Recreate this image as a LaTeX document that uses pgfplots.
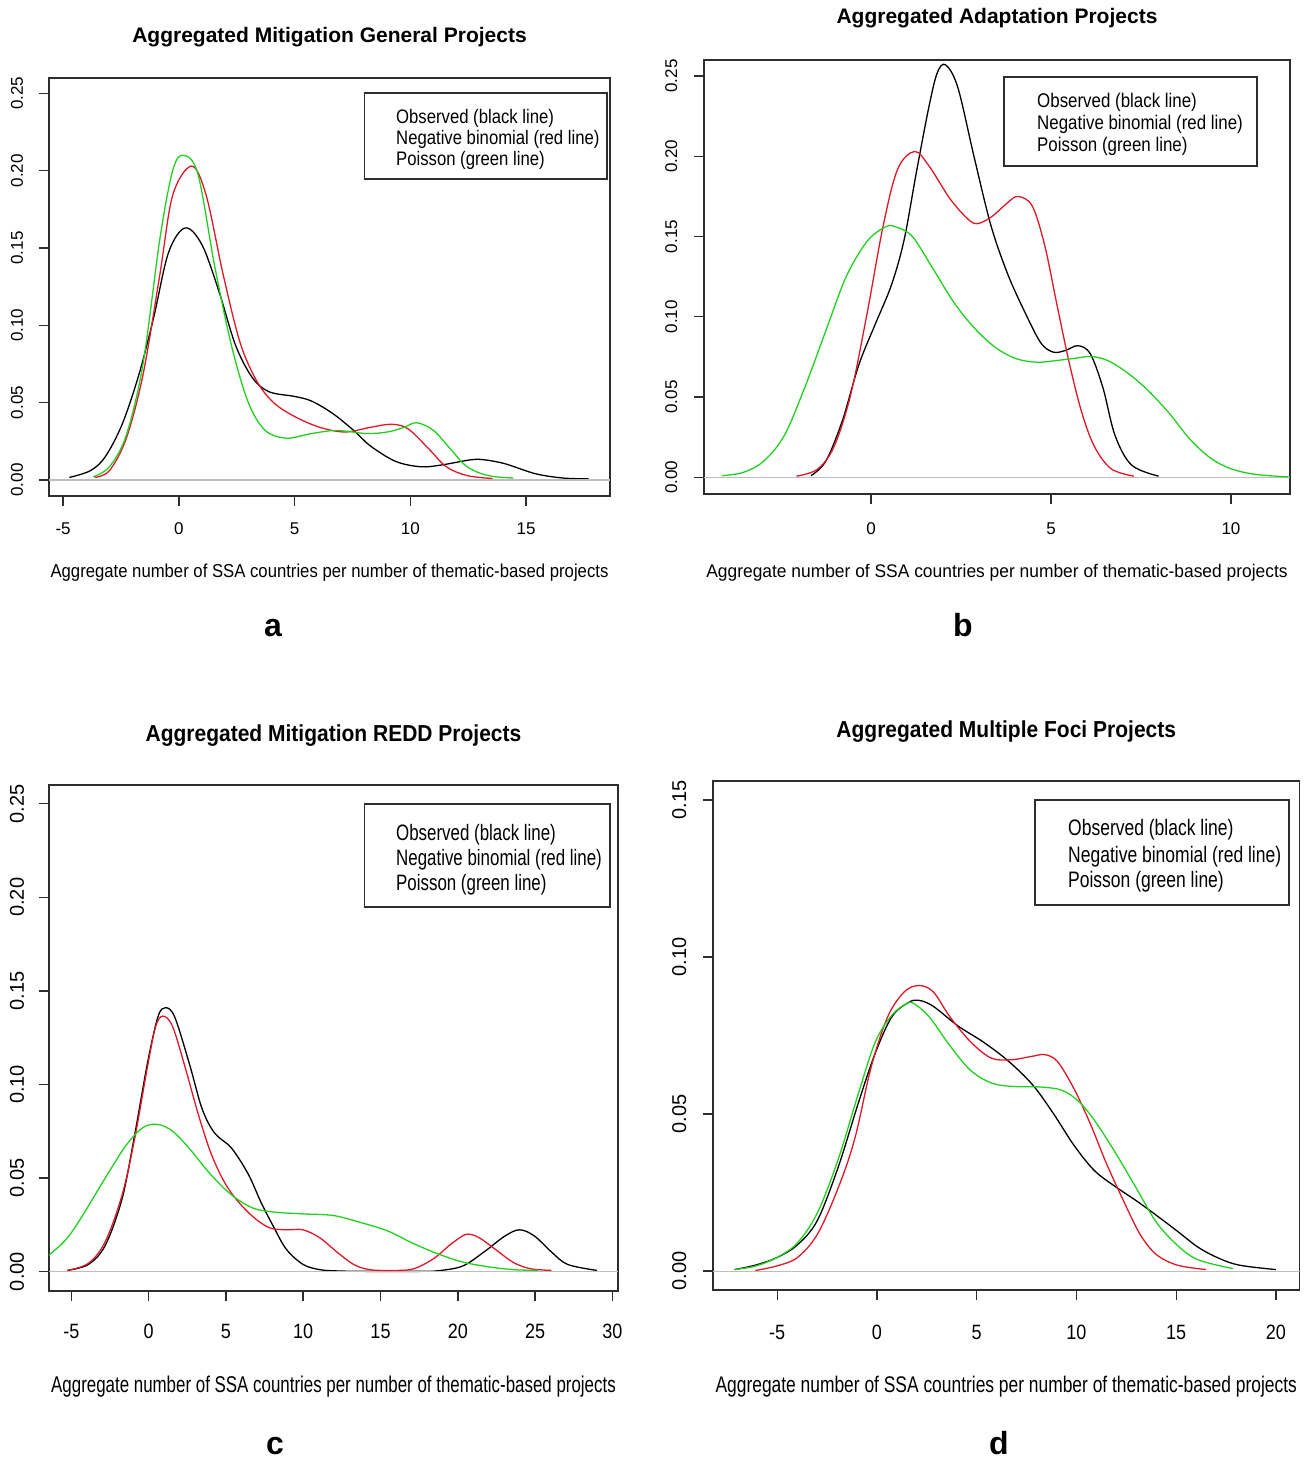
\documentclass[border=0pt]{standalone}
\usepackage{pgfplots}
\pgfplotsset{compat=1.18}
\usepackage{fontspec}
\setmainfont{Liberation Sans}
\definecolor{rred}{RGB}{222,24,40}
\definecolor{rgreen}{RGB}{34,208,34}
\definecolor{zline}{RGB}{190,190,190}
\definecolor{frm}{RGB}{45,45,45}
\newcommand\fs[1]{\fontsize{#1}{#1}\selectfont}
\pgfplotsset{
  rstyle/.style={
    scale only axis, clip=true,
    axis line style={frm, line width=1.6pt},
    tick align=outside, tick pos=left,
    tick style={frm, line width=1.4pt}, major tick length=10pt,
    minor tick num=0,
    every axis plot/.append style={line width=1.3pt, mark=none, smooth, tension=0.55},
    title style={anchor=base, font=\bfseries\fs{21}},
    yticklabel style={rotate=90, anchor=base},
  },
  obs/.style={black},
  nb/.style={rred},
  poi/.style={rgreen},
  zl/.style={zline, line width=1.2pt, smooth=false},
}
\begin{document}
\begin{tikzpicture}[x=1pt,y=1pt]
\path (0,0) rectangle (1309,1462);

% ---------------- panel a
\begin{axis}[rstyle, at={(49pt,966pt)}, anchor=south west, width=561pt, height=418pt,
  xmin=-5.61, xmax=18.62, ymin=-0.0104, ymax=0.26,
  xtick={-5,0,5,10,15}, xticklabels={-5,0,5,10,15},
  ytick={0,0.05,0.1,0.15,0.2,0.25}, yticklabels={0.00,0.05,0.10,0.15,0.20,0.25},
  xticklabel style={anchor=base, font=\fs{17}, yshift=-29pt},
  yticklabel style={font=\fs{17}, yshift=16pt},
  title={Aggregated Mitigation General Projects},
  title style={at={(axis description cs:0.5,1)}, yshift=29pt},
  xlabel={\scalebox{1}[1.12]{\fs{16.7}Aggregate number of SSA countries per number of thematic-based projects}},
  xlabel style={at={(axis description cs:0.5,0)}, anchor=base, yshift=-82pt},
]
\addplot[obs] coordinates {(-4.73,0.0016) (-3.82,0.006) (-3.18,0.015) (-2.45,0.036) (-1.73,0.068) (-1.09,0.105) (-0.45,0.147) (0.27,0.163) (1.0,0.152) (1.73,0.122) (2.45,0.087) (3.18,0.066) (3.9,0.057) (5.0,0.054) (5.73,0.051) (6.64,0.043) (7.55,0.032) (8.27,0.022) (9.36,0.012) (10.45,0.0085) (11.36,0.0097) (12.6,0.013) (13.2,0.013) (14.1,0.0104) (15.4,0.004) (16.6,0.0012) (17.7,0.0007)};
\addplot[zl] coordinates {(-5.61,0) (18.62,0)};
\addplot[nb] coordinates {(-3.64,0.0016) (-3.0,0.006) (-2.27,0.027) (-1.55,0.068) (-0.82,0.133) (-0.27,0.184) (0.55,0.203) (1.18,0.184) (1.91,0.133) (2.64,0.089) (3.36,0.064) (4.09,0.050) (5.0,0.041) (6.09,0.034) (7.18,0.031) (8.27,0.034) (9.18,0.036) (9.9,0.033) (10.8,0.020) (11.55,0.0085) (12.45,0.0028) (13.55,0.0009)};
\addplot[poi] coordinates {(-3.7,0.002) (-3.0,0.0085) (-2.27,0.029) (-1.55,0.075) (-0.82,0.156) (-0.27,0.2) (0.18,0.210) (0.82,0.198) (1.55,0.138) (2.27,0.087) (3.0,0.050) (3.73,0.032) (4.64,0.027) (5.73,0.030) (6.82,0.032) (8.09,0.030) (9.0,0.031) (9.73,0.034) (10.27,0.037) (11.0,0.032) (11.73,0.020) (12.45,0.0085) (13.36,0.0028) (14.45,0.0012)};
\end{axis}

% ---------------- panel b
\begin{axis}[rstyle, at={(704pt,968pt)}, anchor=south west, width=586pt, height=434pt,
  xmin=-4.64, xmax=11.64, ymin=-0.0104, ymax=0.26,
  xtick={0,5,10}, xticklabels={0,5,10},
  ytick={0,0.05,0.1,0.15,0.2,0.25}, yticklabels={0.00,0.05,0.10,0.15,0.20,0.25},
  xticklabel style={anchor=base, font=\fs{17}, yshift=-31pt},
  yticklabel style={font=\fs{17}, yshift=17pt},
  title={Aggregated Adaptation Projects},
  title style={at={(axis description cs:0.5,1)}, yshift=30pt},
  xlabel={\scalebox{1}[1.05]{\fs{17.4}Aggregate number of SSA countries per number of thematic-based projects}},
  xlabel style={at={(axis description cs:0.5,0)}, anchor=base, yshift=-84pt},
]
\addplot[obs] coordinates {(-1.67,0.001) (-1.26,0.0099) (-0.8,0.035) (-0.34,0.070) (0.11,0.095) (0.57,0.12) (0.92,0.148) (1.26,0.19) (1.61,0.231) (1.84,0.252) (2.07,0.257) (2.41,0.243) (2.87,0.199) (3.33,0.157) (3.79,0.127) (4.25,0.104) (4.71,0.084) (5.06,0.078) (5.4,0.079) (5.75,0.082) (6.09,0.077) (6.44,0.056) (6.78,0.026) (7.24,0.0076) (7.99,0.0007)};
\addplot[zl] coordinates {(-4.64,0) (11.64,0)};
\addplot[nb] coordinates {(-2.07,0.0007) (-1.49,0.005) (-1.03,0.019) (-0.57,0.051) (-0.11,0.102) (0.34,0.157) (0.74,0.192) (1.21,0.203) (1.61,0.194) (2.18,0.174) (2.64,0.162) (2.93,0.158) (3.33,0.162) (3.79,0.171) (4.08,0.175) (4.48,0.169) (4.83,0.144) (5.17,0.107) (5.52,0.070) (5.86,0.040) (6.21,0.019) (6.67,0.0053) (7.3,0.0007)};
\addplot[poi] coordinates {(-4.14,0.001) (-3.56,0.003) (-2.99,0.0099) (-2.41,0.026) (-1.84,0.056) (-1.26,0.091) (-0.69,0.125) (-0.11,0.147) (0.4,0.156) (0.69,0.156) (1.15,0.150) (1.72,0.130) (2.3,0.109) (2.87,0.093) (3.45,0.081) (4.02,0.074) (4.6,0.0717) (5.17,0.0728) (5.75,0.0744) (6.09,0.0753) (6.55,0.073) (7.13,0.065) (7.7,0.054) (8.28,0.040) (8.85,0.024) (9.43,0.012) (10.0,0.0053) (10.69,0.0018) (11.6,0.0002)};
\end{axis}

% ---------------- panel c
\begin{axis}[rstyle, at={(49pt,171pt)}, anchor=south west, width=569pt, height=506pt,
  xmin=-6.44, xmax=30.36, ymin=-0.0104, ymax=0.26,
  xtick={-5,0,5,10,15,20,25,30}, xticklabels={-5,0,5,10,15,20,25,30},
  ytick={0,0.05,0.1,0.15,0.2,0.25}, yticklabels={0.00,0.05,0.10,0.15,0.20,0.25},
  xticklabel style={anchor=base, font=\fs{18}, yscale=1.15, yshift=-33pt},
  yticklabel style={font=\fs{20}, yshift=15pt},
  title={\scalebox{1}[1.1]{Aggregated Mitigation REDD Projects}},
  title style={at={(axis description cs:0.5,1)}, yshift=37pt},
  xlabel={\scalebox{1}[1.35]{\fs{16.9}Aggregate number of SSA countries per number of thematic-based projects}},
  xlabel style={at={(axis description cs:0.5,0)}, anchor=base, yshift=-101pt},
]
\addplot[obs] coordinates {(-5.25,0.0006) (-3.89,0.0038) (-2.8,0.014) (-1.71,0.039) (-0.9,0.073) (-0.08,0.111) (0.6,0.136) (1.09,0.141) (1.69,0.136) (2.64,0.111) (3.46,0.087) (4.27,0.074) (5.36,0.066) (6.45,0.052) (7.27,0.037) (8.08,0.024) (8.9,0.012) (9.99,0.0038) (11.08,0.001) (12.3,0.0003) (14,0.0001) (16,0.0001) (17.5,0.0001) (18.7,0.0004) (20.3,0.0029) (21.7,0.0105) (23.05,0.019) (24.0,0.0223) (24.95,0.019) (26.05,0.0105) (27.1,0.0038) (29.0,0.0006)};
\addplot[zl] coordinates {(-6.44,0) (30.36,0)};
\addplot[nb] coordinates {(-5.25,0.0006) (-3.89,0.0044) (-2.8,0.016) (-1.71,0.041) (-0.9,0.071) (-0.08,0.109) (0.46,0.131) (0.93,0.1365) (1.55,0.131) (2.37,0.109) (3.18,0.085) (4.0,0.064) (4.82,0.049) (5.63,0.039) (6.72,0.0295) (7.81,0.0234) (8.9,0.0223) (9.99,0.0223) (11.08,0.018) (12.17,0.0105) (13.26,0.0038) (14.3,0.001) (15.7,0.0006) (17.07,0.0013) (18.4,0.0067) (19.5,0.0143) (20.3,0.019) (20.7,0.020) (21.4,0.018) (22.5,0.0114) (23.6,0.0048) (24.7,0.0015) (26.05,0.0006)};
\addplot[poi] coordinates {(-7.5,0.003) (-6.42,0.009) (-5.25,0.018) (-4.16,0.0314) (-2.8,0.050) (-1.44,0.0676) (-0.35,0.077) (0.6,0.0786) (1.55,0.075) (2.64,0.0657) (4.0,0.052) (5.36,0.041) (6.72,0.034) (8.08,0.0318) (9.99,0.0308) (11.9,0.030) (13.5,0.0267) (15.4,0.0219) (17.07,0.0152) (18.7,0.0095) (20.3,0.0051) (22.0,0.0025) (23.6,0.001) (25.2,0.0006)};
\end{axis}

% ---------------- panel d
\begin{axis}[rstyle, at={(713pt,172pt)}, anchor=south west, width=586.5pt, height=509pt,
  xmin=-8.22, xmax=21.18, ymin=-0.006, ymax=0.156,
  xtick={-5,0,5,10,15,20}, xticklabels={-5,0,5,10,15,20},
  ytick={0,0.05,0.1,0.15}, yticklabels={0.00,0.05,0.10,0.15},
  xticklabel style={anchor=base, font=\fs{18}, yscale=1.15, yshift=-34pt},
  yticklabel style={font=\fs{20}, yshift=17pt},
  title={\scalebox{1}[1.1]{Aggregated Multiple Foci Projects}},
  title style={at={(axis description cs:0.5,1)}, yshift=37pt},
  xlabel={\scalebox{1}[1.3]{\fs{17.4}Aggregate number of SSA countries per number of thematic-based projects}},
  xlabel style={at={(axis description cs:0.5,0)}, anchor=base, yshift=-102pt},
]
\addplot[obs] coordinates {(-7.14,0.0005) (-6.1,0.0019) (-5.06,0.0042) (-4.02,0.0082) (-3.0,0.016) (-1.95,0.033) (-0.91,0.054) (-0.08,0.0695) (0.75,0.081) (1.58,0.0855) (2.1,0.0862) (2.82,0.0843) (4.07,0.078) (5.31,0.073) (6.56,0.067) (7.8,0.0593) (8.84,0.0502) (9.88,0.040) (10.9,0.032) (11.95,0.0269) (13.0,0.0224) (14.0,0.0178) (15.06,0.0127) (16.1,0.0076) (17.1,0.0042) (18.17,0.0019) (20.0,0.0005)};
\addplot[zl] coordinates {(-8.22,0) (21.18,0)};
\addplot[nb] coordinates {(-6.1,0.0002) (-5.06,0.0016) (-4.02,0.0042) (-3.0,0.0116) (-1.95,0.0264) (-1.12,0.042) (-0.29,0.065) (0.54,0.081) (1.37,0.0889) (2.1,0.0909) (2.82,0.0889) (3.65,0.081) (4.69,0.073) (5.73,0.0678) (6.76,0.0673) (7.8,0.0684) (8.42,0.0689) (9.05,0.0667) (9.88,0.058) (10.7,0.0468) (11.5,0.0343) (12.4,0.0218) (13.2,0.0116) (14.0,0.0053) (15.06,0.0019) (16.5,0.0005)};
\addplot[poi] coordinates {(-7.14,0.0005) (-6.1,0.0016) (-5.06,0.0042) (-4.02,0.0088) (-3.0,0.0184) (-1.95,0.0355) (-0.91,0.057) (-0.08,0.073) (0.75,0.0815) (1.47,0.0851) (1.83,0.0852) (2.61,0.081) (3.65,0.0718) (4.69,0.0639) (5.73,0.0599) (6.76,0.0588) (8.2,0.0586) (9.25,0.0576) (10.08,0.0542) (10.9,0.048) (11.95,0.0377) (13.0,0.0264) (14.0,0.0156) (15.06,0.0082) (16.1,0.0036) (17.86,0.0008)};
\end{axis}

% legends
\begin{scope}[every node/.style={anchor=base west, inner sep=0pt}]
\draw[frm, line width=1.4pt] (364.5,1283) rectangle (607,1369);
\node[yscale=1.17] at (396,1338) {\fs{16.7}Observed (black line)};
\node[yscale=1.17] at (396,1317) {\fs{16.7}Negative binomial (red line)};
\node[yscale=1.17] at (396,1296) {\fs{16.7}Poisson (green line)};

\draw[frm, line width=1.4pt] (1004,1296) rectangle (1257,1385);
\node[yscale=1.17] at (1037,1354) {\fs{16.9}Observed (black line)};
\node[yscale=1.17] at (1037,1332) {\fs{16.9}Negative binomial (red line)};
\node[yscale=1.17] at (1037,1310) {\fs{16.9}Poisson (green line)};

\draw[frm, line width=1.4pt] (364.5,555) rectangle (610,658);
\node[yscale=1.32] at (396,621.5) {\fs{16.9}Observed (black line)};
\node[yscale=1.32] at (396,596) {\fs{16.9}Negative binomial (red line)};
\node[yscale=1.32] at (396,571) {\fs{16.9}Poisson (green line)};

\draw[frm, line width=1.4pt] (1035,557) rectangle (1289,662);
\node[yscale=1.28] at (1068,626) {\fs{17.5}Observed (black line)};
\node[yscale=1.28] at (1068,599) {\fs{17.5}Negative binomial (red line)};
\node[yscale=1.28] at (1068,574) {\fs{17.5}Poisson (green line)};
\end{scope}

% panel letters
\begin{scope}[every node/.style={anchor=base, inner sep=0pt, font=\bfseries\fs{32}}]
\node at (273,825) {a};
\node at (963,825) {b};
\node at (275,8) {c};
\node at (999,8) {d};
\end{scope}
\end{tikzpicture}
\end{document}
